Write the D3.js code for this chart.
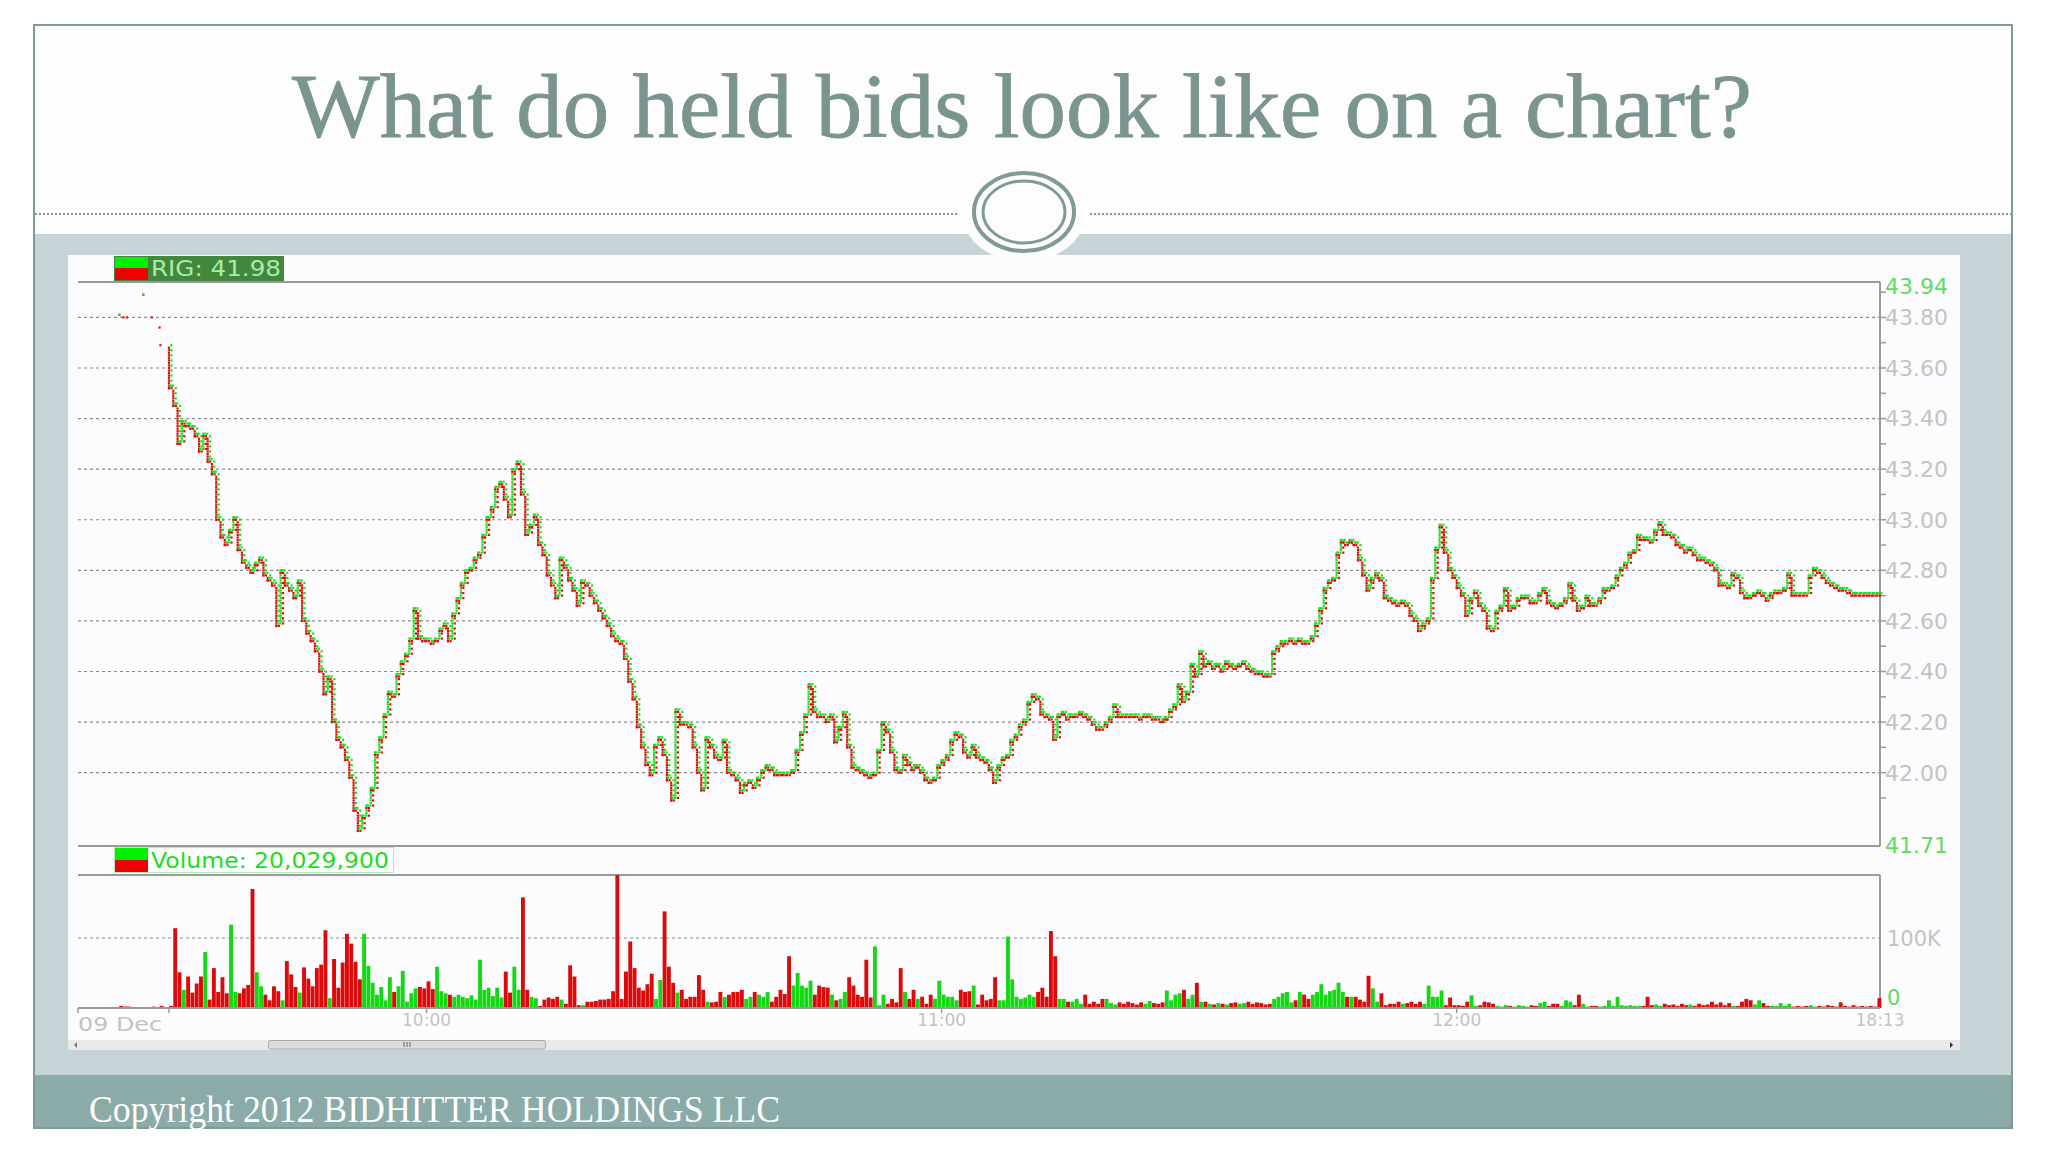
<!DOCTYPE html>
<html><head><meta charset="utf-8">
<script src="https://cdn.jsdelivr.net/npm/d3@7"></script>
<style>html,body{margin:0;padding:0;background:#fff;} svg{display:block}</style>
</head><body>
<svg id="c" width="2048" height="1152"></svg>
<script>
// ---------------- DATA ----------------
const titleText = "What do held bids look like on a chart?";
const footerText = "Copyright 2012 BIDHITTER HOLDINGS LLC";
const symbolLabel = "RIG: 41.98";
const volumeLabel = "Volume: 20,029,900";

const priceDomain = [41.71, 43.94];
const priceGridTicks = [43.80, 43.60, 43.40, 43.20, 43.00, 42.80, 42.60, 42.40, 42.20, 42.00];
const priceEndTicks = [43.94, 41.71];
const volumeGridTicks = [100];          // thousands
const volumeTickLabels = ["0", "100K"];
const volumeDomainMax = 100;

// minutes after 09:30
const timeDomain = [-10.6, 199.3];
const timeTickMinutes = [0, 30, 90, 150];
const timeTickLabels = ["", "10:00", "11:00", "12:00"];
const startLabel = "09 Dec";
const endLabel = "18:13";

// pre-market ticks
const preTimes = [-5.8, -5.3, -4.9, -3.0, -2.0, -1.1, -1.0];
const prePrices = [43.81, 43.80, 43.80, 43.89, 43.80, 43.76, 43.69];
const preVolumes = [3, 2, 2, 1, 2, 3, 2];

// 30-second samples from 09:30
const sampleStep = 0.5;
const prices = [
43.52,43.45,43.30,43.38,43.37,43.36,43.33,43.27,43.33,43.23,43.18,43.00,42.93,42.90,42.95,43.00,42.88,42.83,42.81,42.79,
42.82,42.84,42.78,42.76,42.74,42.58,42.79,42.74,42.72,42.69,42.75,42.60,42.55,42.52,42.48,42.40,42.31,42.37,42.20,42.13,
42.10,42.05,41.98,41.85,41.77,41.82,41.86,41.93,42.07,42.13,42.22,42.31,42.30,42.38,42.43,42.46,42.52,42.64,42.53,42.52,
42.52,42.51,42.52,42.56,42.58,42.52,42.62,42.68,42.74,42.79,42.80,42.84,42.86,42.93,43.00,43.04,43.12,43.14,43.08,43.01,
43.19,43.22,43.10,42.94,42.97,43.01,42.90,42.86,42.78,42.74,42.69,42.84,42.81,42.76,42.72,42.66,42.75,42.74,42.70,42.67,
42.64,42.61,42.58,42.54,42.52,42.51,42.45,42.36,42.29,42.18,42.10,42.03,41.99,42.10,42.13,42.07,41.97,41.89,42.24,42.19,
42.19,42.18,42.10,42.00,41.93,42.13,42.10,42.06,42.05,42.12,42.00,41.99,41.97,41.92,41.95,41.96,41.94,41.97,42.00,42.02,
42.01,41.99,41.99,41.99,41.99,42.00,42.08,42.15,42.22,42.34,42.24,42.22,42.22,42.20,42.22,42.12,42.17,42.23,42.10,42.02,
42.01,42.00,41.99,41.98,41.99,42.08,42.19,42.16,42.08,42.01,42.00,42.06,42.03,42.01,42.02,42.00,41.97,41.96,41.97,42.02,
42.04,42.06,42.12,42.15,42.14,42.08,42.06,42.10,42.06,42.05,42.04,42.01,41.96,42.02,42.05,42.06,42.12,42.14,42.18,42.20,
42.27,42.30,42.29,42.23,42.22,42.21,42.13,42.22,42.23,42.21,42.22,42.22,42.23,42.22,42.21,42.19,42.17,42.17,42.19,42.21,
42.26,42.22,42.22,42.22,42.22,42.22,42.21,42.22,42.22,42.21,42.21,42.20,42.21,42.24,42.26,42.34,42.28,42.31,42.42,42.38,
42.47,42.42,42.43,42.41,42.42,42.40,42.43,42.42,42.41,42.42,42.43,42.41,42.40,42.39,42.39,42.38,42.38,42.47,42.49,42.51,
42.51,42.52,42.51,42.52,42.51,42.51,42.53,42.58,42.64,42.72,42.75,42.76,42.86,42.91,42.90,42.91,42.90,42.84,42.78,42.72,
42.76,42.78,42.76,42.69,42.68,42.67,42.66,42.67,42.66,42.62,42.60,42.56,42.58,42.60,42.76,42.88,42.97,42.87,42.80,42.77,
42.73,42.70,42.62,42.68,42.71,42.66,42.64,42.57,42.56,42.63,42.65,42.72,42.64,42.65,42.68,42.69,42.69,42.67,42.67,42.70,
42.72,42.67,42.66,42.65,42.66,42.68,42.74,42.68,42.64,42.65,42.69,42.66,42.66,42.68,42.72,42.72,42.73,42.77,42.80,42.82,
42.86,42.87,42.93,42.92,42.92,42.91,42.95,42.98,42.94,42.94,42.93,42.90,42.89,42.87,42.88,42.86,42.84,42.84,42.83,42.82,
42.80,42.74,42.74,42.73,42.78,42.77,42.71,42.69,42.69,42.70,42.71,42.70,42.68,42.70,42.71,42.71,42.72,42.78,42.70,42.70,
42.70,42.70,42.77,42.80,42.79,42.77,42.75,42.74,42.73,42.72,42.72,42.71,42.70,42.70,42.70,42.70,42.70,42.70,42.70
];
// thousands of shares per 30-second bar
const volumes = [
3,114,51,26,45,22,35,45,80,12,
57,23,44,21,119,23,21,28,33,170,
51,31,19,11,31,24,11,67,48,30,
22,58,42,31,57,62,111,14,70,29,
65,106,92,66,41,106,60,36,19,30,
11,44,23,31,53,9,21,28,30,28,
38,27,59,24,21,19,16,19,16,14,
18,12,69,26,29,17,29,15,52,22,
59,26,158,26,16,14,3,12,15,13,
16,12,6,61,45,4,4,9,9,10,
12,12,13,24,190,13,52,95,57,29,
25,34,49,13,40,138,59,36,22,26,
13,16,16,47,26,9,8,9,23,16,
19,23,23,26,13,16,23,19,16,23,
9,16,26,20,74,32,50,32,29,39,
19,32,30,29,19,11,13,23,44,32,
19,16,69,15,88,4,19,6,13,8,
57,23,13,26,13,16,6,19,13,39,
19,16,16,11,26,23,24,32,5,19,
11,13,44,11,11,102,41,16,13,15,
19,16,23,29,16,110,74,13,13,9,
9,13,6,19,6,9,6,13,13,7,
5,8,6,9,7,5,8,6,10,7,
6,8,25,11,19,21,26,13,19,36,
9,9,6,5,7,6,5,7,8,6,
7,9,6,8,7,5,6,13,16,21,
23,8,11,23,19,13,19,23,34,19,
24,26,36,23,16,16,16,12,9,46,
28,9,21,4,6,6,9,6,7,9,
6,9,6,32,16,16,25,4,15,4,
4,3,9,18,3,4,9,8,6,3,
2,4,3,2,4,3,2,4,3,7,
9,3,6,6,3,11,9,4,19,6,
2,3,3,2,3,11,3,16,4,3,
4,3,3,3,16,4,5,3,6,4,
5,3,6,4,5,3,6,4,5,9,
5,8,4,7,3,3,9,13,11,5,
11,7,3,3,3,7,3,6,2,3,
2,3,4,2,3,2,4,3,2,8,
3,2,4,2,3,2,3,2,14
];

// ---------------- DRAW ----------------
const svg = d3.select("#c");
const C = {
  border: "#7f9a97", title: "#7a9490", band: "#c6d4d7", footer: "#8aaba7",
  panel: "#fcfcfe", grid: "#8c8c8c", frame: "#9a9a9a", label: "#c3c3c3",
  labelGreen: "#5ddc5d", up: "#1fe01f", down: "#e00c0c",
  barUp: "#14d814", barDown: "#dc0a0a"
};
const serif = "'Liberation Serif','DejaVu Serif',serif";
const sans = "'DejaVu Sans','Liberation Sans',sans-serif";

// slide
svg.append("rect").attr("x",0).attr("y",0).attr("width",2048).attr("height",1152).attr("fill","#fff");
svg.append("rect").attr("x",34).attr("y",25).attr("width",1978).attr("height",1103).attr("fill","#fdfdfe");
svg.append("rect").attr("x",34).attr("y",234).attr("width",1978).attr("height",841).attr("fill",C.band);
svg.append("rect").attr("x",34).attr("y",1075).attr("width",1978).attr("height",53).attr("fill",C.footer);
svg.append("rect").attr("x",34).attr("y",25).attr("width",1978).attr("height",1103)
  .attr("fill","none").attr("stroke",C.border).attr("stroke-width",2);

svg.append("text").attr("x",1022).attr("y",137).attr("text-anchor","middle")
  .attr("font-family",serif).attr("font-size",90).attr("fill",C.title)
  .attr("stroke",C.title).attr("stroke-width",0.8)
  .attr("textLength",1460).attr("lengthAdjust","spacingAndGlyphs").text(titleText);

// dashed divider
[[35,958],[1090,2011]].forEach(([a,b])=>{
  svg.append("line").attr("x1",a).attr("x2",b).attr("y1",214).attr("y2",214)
    .attr("stroke",C.border).attr("stroke-width",2).attr("stroke-dasharray","2,2");
});
// oval ornament
svg.append("ellipse").attr("cx",1024).attr("cy",212).attr("rx",62).attr("ry",50).attr("fill","#fdfdfe");
svg.append("ellipse").attr("cx",1024).attr("cy",212).attr("rx",50).attr("ry",39)
  .attr("fill","none").attr("stroke",C.border).attr("stroke-width",4);
svg.append("ellipse").attr("cx",1024).attr("cy",212).attr("rx",41).attr("ry",31)
  .attr("fill","none").attr("stroke",C.border).attr("stroke-width",3);

svg.append("text").attr("x",89).attr("y",1122)
  .attr("font-family",serif).attr("font-size",38).attr("fill","#fff")
  .attr("textLength",691).attr("lengthAdjust","spacingAndGlyphs").text(footerText);

// chart panel
svg.append("rect").attr("x",68).attr("y",255).attr("width",1892).attr("height",795).attr("fill",C.panel);

const L = 78, R = 1880;
const x = d3.scaleLinear().domain(timeDomain).range([L, R]);
const y = d3.scaleLinear().domain(priceDomain).range([846, 282]);
const yv = d3.scaleLinear().domain([0, volumeDomainMax]).range([1008, 938]);

// price grid
const g = svg.append("g");
g.selectAll("line.pg").data(priceGridTicks).join("line")
  .attr("x1",L).attr("x2",R).attr("y1",d=>y(d)).attr("y2",d=>y(d))
  .attr("stroke",C.grid).attr("stroke-width",1.2).attr("stroke-dasharray","3,3");
// price frame
g.append("line").attr("x1",L).attr("x2",R).attr("y1",y(priceDomain[1])).attr("y2",y(priceDomain[1])).attr("stroke",C.frame).attr("stroke-width",2);
g.append("line").attr("x1",L).attr("x2",R).attr("y1",y(priceDomain[0])).attr("y2",y(priceDomain[0])).attr("stroke",C.frame).attr("stroke-width",2);
g.append("line").attr("x1",R).attr("x2",R).attr("y1",y(priceDomain[1])).attr("y2",y(priceDomain[0])).attr("stroke",C.frame).attr("stroke-width",2);

// right price axis
const minorTicks = d3.range(0, priceGridTicks.length+1).map(i => 43.90 - i*0.2);
g.selectAll("line.mt").data(minorTicks.filter(v=>v>priceDomain[0] && v<priceDomain[1])).join("line")
  .attr("x1",R).attr("x2",R+6).attr("y1",d=>y(d)).attr("y2",d=>y(d)).attr("stroke",C.frame).attr("stroke-width",1.5);
g.selectAll("line.mj").data(priceGridTicks).join("line")
  .attr("x1",R).attr("x2",R+6).attr("y1",d=>y(d)).attr("y2",d=>y(d)).attr("stroke",C.frame).attr("stroke-width",1.5);
g.selectAll("text.pl").data(priceGridTicks).join("text")
  .attr("x",R+5).attr("y",d=>y(d)).attr("dy","0.36em")
  .attr("font-family",sans).attr("font-size",22).attr("fill",C.label).text(d=>d.toFixed(2));
g.selectAll("text.pe").data(priceEndTicks).join("text")
  .attr("x",R+5).attr("y",(d,i)=>y(d)+(i===0?4:-1)).attr("dy","0.36em")
  .attr("font-family",sans).attr("font-size",22).attr("fill",C.labelGreen).text(d=>d.toFixed(2));

// legend RIG
g.append("rect").attr("x",114).attr("y",256).attr("width",170).attr("height",25).attr("fill","#43873f");
g.append("rect").attr("x",115).attr("y",257).attr("width",33).attr("height",11).attr("fill","#00f000");
g.append("rect").attr("x",115).attr("y",268).attr("width",33).attr("height",12).attr("fill","#f00000");
g.append("text").attr("x",151).attr("y",276).attr("font-family",sans).attr("font-size",22)
  .attr("fill","#a6eda6").attr("textLength",130).attr("lengthAdjust","spacingAndGlyphs").text(symbolLabel);

// price dots (bid red, ask green)
const cent = 0.01;
const dots = [];
preTimes.forEach((t,i)=>{
  dots.push({x:x(t), p:prePrices[i], c:C.down});
  if (i===3) dots.push({x:x(t), p:prePrices[i], c:C.up});
});
dots.push({x:x(-5.8), p:43.81, c:C.up});
prices.forEach((p,i)=>{
  const t = i*sampleStep;
  const xa = x(t), xb = x(t+sampleStep);
  const prev = i===0 ? prePrices[prePrices.length-1] : prices[i-1];
  const up = p >= prev;
  const n = Math.round(Math.abs(p-prev)/cent);
  for (let k=1;k<=n;k++){
    const lv = prev + (up?1:-1)*k*cent;
    dots.push({x:xa, p: up? lv+cent : lv, c: up?C.up:C.down});
    if (k%2===1) dots.push({x:xa+2.4, p: up? lv : lv+cent, c: up?C.down:C.up});
  }
  let s = 0;
  for (let xx = xa; xx < xb-0.6; xx += 2.6, s++) {
    dots.push({x:xx, p:p, c:C.down});
    dots.push({x:xx+1.3, p:p+cent, c:C.up});
  }
});
g.append("g").selectAll("rect").data(dots).join("rect")
  .attr("x",d=>d.x-1.1).attr("y",d=>y(d.p)-1.1).attr("width",2.2).attr("height",2.2).attr("fill",d=>d.c);

// volume panel
g.append("line").attr("x1",L).attr("x2",R).attr("y1",875).attr("y2",875).attr("stroke",C.frame).attr("stroke-width",2);
g.append("line").attr("x1",R).attr("x2",R).attr("y1",875).attr("y2",yv(0)).attr("stroke",C.frame).attr("stroke-width",2);
g.selectAll("line.vg").data(volumeGridTicks).join("line")
  .attr("x1",L).attr("x2",R).attr("y1",d=>yv(d)).attr("y2",d=>yv(d))
  .attr("stroke",C.grid).attr("stroke-width",1.2).attr("stroke-dasharray","3,3");

// volume legend
g.append("rect").attr("x",114.5).attr("y",847.5).attr("width",279).attr("height",25).attr("fill","#fff").attr("stroke","#b8eab8");
g.append("rect").attr("x",115).attr("y",848).attr("width",33).attr("height",12).attr("fill","#00f000");
g.append("rect").attr("x",115).attr("y",860).attr("width",33).attr("height",12).attr("fill","#f00000");
g.append("text").attr("x",151).attr("y",868).attr("font-family",sans).attr("font-size",22)
  .attr("fill","#1fdc1f").attr("textLength",238).attr("lengthAdjust","spacingAndGlyphs").text(volumeLabel);

// volume bars
let lastUp = false;
const bars = volumes.map((v,i)=>{
  const prev = i===0 ? prePrices[prePrices.length-1] : prices[i-1];
  if (prices[i] > prev) lastUp = true; else if (prices[i] < prev) lastUp = false;
  return {t:i*sampleStep, v, up:lastUp};
});
preTimes.forEach((t,i)=>bars.push({t, v:preVolumes[i], up:false}));
const bw = (x(sampleStep)-x(0)) - 0.4;
g.append("g").selectAll("rect").data(bars).join("rect")
  .attr("x",d=>x(d.t)).attr("y",d=>yv(d.v)).attr("width",bw).attr("height",d=>yv(0)-yv(d.v))
  .attr("fill",d=>d.up?C.barUp:C.barDown);

g.append("line").attr("x1",L).attr("x2",R).attr("y1",yv(0)).attr("y2",yv(0)).attr("stroke",C.frame).attr("stroke-width",2);
g.append("text").attr("x",R+7).attr("y",yv(100)).attr("dy","0.36em").attr("font-family",sans)
  .attr("font-size",21).attr("fill",C.label).text(volumeTickLabels[1]);
g.append("text").attr("x",R+7).attr("y",yv(0)-11).attr("dy","0.36em").attr("font-family",sans)
  .attr("font-size",21).attr("fill",C.labelGreen).text(volumeTickLabels[0]);

// time axis
g.selectAll("line.xt").data([timeDomain[0]].concat(timeTickMinutes)).join("line")
  .attr("x1",d=>x(d)).attr("x2",d=>x(d)).attr("y1",yv(0)).attr("y2",yv(0)+5).attr("stroke",C.frame).attr("stroke-width",1.5);
g.selectAll("text.xl").data(timeTickMinutes).join("text")
  .attr("x",d=>x(d)).attr("y",1026).attr("text-anchor","middle").attr("font-family",sans)
  .attr("font-size",17).attr("fill",C.label).text((d,i)=>timeTickLabels[i]);
g.append("text").attr("x",L).attr("y",1031).attr("font-family",sans).attr("font-size",20)
  .attr("fill",C.label).attr("textLength",84).attr("lengthAdjust","spacingAndGlyphs").text(startLabel);
g.append("text").attr("x",R).attr("y",1026).attr("text-anchor","middle").attr("font-family",sans)
  .attr("font-size",17).attr("fill",C.label).text(endLabel);

// scrollbar
g.append("rect").attr("x",68).attr("y",1040).attr("width",1892).attr("height",10).attr("fill","#e9e9ea");
g.append("rect").attr("x",268.5).attr("y",1040.5).attr("width",277).attr("height",8.5).attr("rx",2)
  .attr("fill","#dcdcdc").attr("stroke","#a8a8a8");
[404,407,410].forEach(xx=>g.append("line").attr("x1",xx).attr("x2",xx).attr("y1",1042).attr("y2",1047).attr("stroke","#666"));
g.append("path").attr("d","M74,1045 l3,-3 v6 z").attr("fill","#777");
g.append("path").attr("d","M1953,1045 l-3,-3 v6 z").attr("fill","#333");
</script>
</body></html>
